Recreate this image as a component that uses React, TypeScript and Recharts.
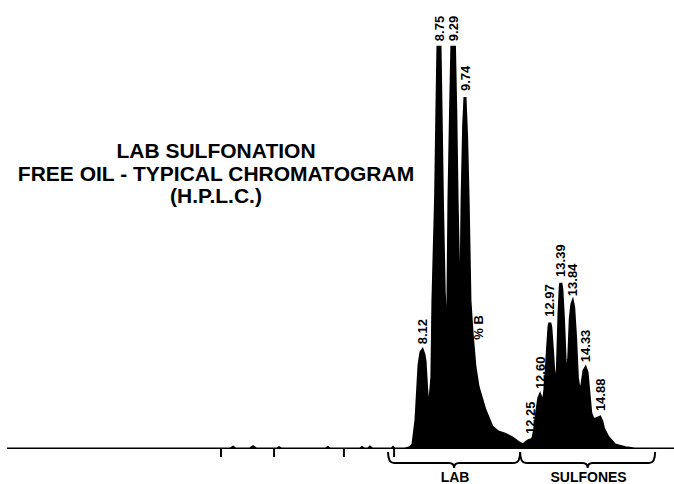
import React from 'react';
import { ComposedChart, Area, XAxis, YAxis, ReferenceLine, ReferenceDot } from 'recharts';

// Title lines
const titleLines = ['LAB SULFONATION', 'FREE OIL - TYPICAL CHROMATOGRAM', '(H.P.L.C.)'];

// Detector trace: [time (min), signal (% of full scale)]
const tracePoints: [number, number][] = [
  [-7.7, 0], [0.8, 0], [0.91, 0.4], [1.0, 0], [1.55, 0], [1.67, 0.5], [1.78, 0],
  [2.58, 0], [2.66, 0.3], [2.75, 0], [4.45, 0], [4.52, 0.3], [4.6, 0],
  [5.75, 0], [5.82, 0.3], [5.9, 0], [6.05, 0], [6.12, 0.4], [6.2, 0],
  [6.95, 0], [7.0, 0.3], [7.06, 0], [7.46, 0], [7.65, 0.3], [7.76, 1.0],
  [7.875, 6.5], [7.99, 18.7], [8.06, 21.5], [8.12, 22.0], [8.18, 21.0], [8.22, 19.5],
  [8.28, 13.5], [8.33, 9.4], [8.41, 11.0], [8.48, 16.0], [8.52, 33.2], [8.62, 55.5],
  [8.67, 75.0], [8.71, 89.5], [8.75, 89.5], [8.79, 89.5], [8.83, 75.0], [8.88, 55.5],
  [8.95, 35.0], [9.04, 23.2], [9.09, 32.0], [9.13, 55.5], [9.19, 75.0], [9.24, 89.5],
  [9.29, 89.5], [9.34, 89.5], [9.39, 75.0], [9.44, 55.5], [9.50, 38.0], [9.57, 25.8],
  [9.63, 55.5], [9.69, 72.0], [9.74, 78.4], [9.80, 70.0], [9.86, 55.5], [9.93, 33.0],
  [10.01, 25.8], [10.12, 18.3], [10.24, 13.8], [10.50, 8.7], [10.77, 4.9], [11.0, 3.8],
  [11.26, 3.3], [11.53, 2.5], [11.76, 1.5], [11.95, 0.9], [12.10, 1.6], [12.18, 1.9],
  [12.25, 2.0], [12.33, 2.4], [12.40, 4.5], [12.48, 8.5], [12.55, 11.3], [12.60, 12.0],
  [12.65, 11.2], [12.72, 10.2], [12.80, 14.0], [12.88, 22.0], [12.94, 27.2], [12.97, 28.1],
  [13.01, 27.0], [13.07, 22.0], [13.14, 15.5], [13.20, 13.8], [13.26, 18.0], [13.32, 30.0],
  [13.37, 36.2], [13.39, 37.0], [13.43, 35.5], [13.49, 29.0], [13.56, 19.0], [13.63, 16.0],
  [13.69, 20.0], [13.75, 29.0], [13.81, 32.2], [13.84, 32.7], [13.88, 31.5], [13.95, 25.0],
  [14.02, 16.0], [14.10, 12.5], [14.20, 14.5], [14.27, 17.4], [14.33, 18.0], [14.39, 17.0],
  [14.46, 12.5], [14.53, 8.0], [14.60, 6.9], [14.70, 6.6], [14.80, 6.9], [14.88, 7.1],
  [14.95, 6.2], [15.02, 4.5], [15.18, 2.7], [15.45, 0.9], [15.85, 0.3], [16.2, 0], [17.7, 0],
];

// Peak retention times, labels and apex heights
const peakTimes = [8.12, 8.75, 9.29, 9.74, 12.25, 12.6, 12.97, 13.39, 13.84, 14.33, 14.88];
const peakLabels = ['8.12', '8.75', '9.29', '9.74', '12.25', '12.60', '12.97', '13.39', '13.84', '14.33', '14.88'];
const peakHeights = [22.0, 89.5, 89.5, 78.4, 2.0, 12.0, 28.1, 37.0, 32.7, 18.0, 7.1];

// Gradient annotation
const annotationLabels = ['% B'];
const annotationTimes = [10.24];
const annotationHeights = [23];

// Event marks below the baseline
const markerTimes = [0.45, 1.44, 2.47, 3.95, 5.13, 5.93, 6.62, 7.04];

// Grouping brackets
const groupNames = ['LAB', 'SULFONES'];
const groupStarts = [6.81, 11.84];
const groupEnds = [11.84, 16.98];

const traceData = tracePoints.map(([t, h]) => ({ t, h }));
const FONT = '"Liberation Sans", Arial, Helvetica, sans-serif';

const VerticalLabel = ({ cx, cy, text }: { cx: number; cy: number; text: string }) => {
  const x = cx + 4.6;
  const y = cy - 6;
  return (
    <text
      x={x}
      y={y}
      transform={`rotate(-90, ${x}, ${y})`}
      textAnchor="start"
      fontFamily={FONT}
      fontWeight="bold"
      fontSize={13}
      fill="#000"
    >
      {text}
    </text>
  );
};

const makeBracket = (name: string) => (props: any) => {
  const { x1, x2, y1 } = props;
  const xa = Math.min(x1, x2);
  const xb = Math.max(x1, x2);
  const mid = (xa + xb) / 2;
  const yTop = y1 + 3;
  const yLine = y1 + 14;
  const yTip = y1 + 19;
  const d = `M ${xa} ${yTop} Q ${xa} ${yLine} ${xa + 6} ${yLine} L ${mid - 5} ${yLine} Q ${mid} ${yLine} ${mid} ${yTip} Q ${mid} ${yLine} ${mid + 5} ${yLine} L ${xb - 6} ${yLine} Q ${xb} ${yLine} ${xb} ${yTop}`;
  return (
    <g>
      <path d={d} fill="none" stroke="#000" strokeWidth={2} />
      <text x={mid + 1} y={y1 + 33} textAnchor="middle" fontFamily={FONT} fontWeight="bold" fontSize={14} fill="#000">
        {name}
      </text>
    </g>
  );
};

const EmptyTick = () => <g />;

export default function App() {
  return (
    <div style={{ position: 'absolute', left: 0, top: 0, width: 674, height: 484, background: '#fff' }}>
      <ComposedChart width={674} height={484} data={traceData} margin={{ top: 0, right: 0, left: 7, bottom: 0 }}>
        <XAxis
          dataKey="t"
          type="number"
          domain={[-7.7, 17.7]}
          ticks={markerTimes}
          axisLine={false}
          tickLine={{ stroke: '#000', strokeWidth: 2 }}
          tickSize={8}
          tick={<EmptyTick />}
          height={35}
          allowDataOverflow
        />
        <YAxis type="number" domain={[0, 100]} hide allowDataOverflow />
        <Area
          type="linear"
          dataKey="h"
          stroke="#000"
          strokeWidth={3}
          fill="#000"
          fillOpacity={1}
          isAnimationActive={false}
          dot={false}
          activeDot={false}
        />
        {groupNames.map((name, i) => (
          <ReferenceLine
            key={name}
            segment={[{ x: groupStarts[i], y: 0 }, { x: groupEnds[i], y: 0 }]}
            shape={makeBracket(name)}
          />
        ))}
        {peakTimes.map((t, i) => (
          <ReferenceDot
            key={peakLabels[i]}
            x={t}
            y={peakHeights[i]}
            r={0}
            shape={(p: any) => <VerticalLabel cx={p.cx} cy={p.cy} text={peakLabels[i]} />}
          />
        ))}
        {annotationTimes.map((t, i) => (
          <ReferenceDot
            key={annotationLabels[i]}
            x={t}
            y={annotationHeights[i]}
            r={0}
            shape={(p: any) => <VerticalLabel cx={p.cx} cy={p.cy} text={annotationLabels[i]} />}
          />
        ))}
      </ComposedChart>
      <svg width={674} height={484} style={{ position: 'absolute', left: 0, top: 0, pointerEvents: 'none' }}>
        {titleLines.map((line, i) => (
          <text
            key={line}
            x={216}
            y={158 + i * 22.5}
            textAnchor="middle"
            fontFamily={FONT}
            fontWeight="bold"
            fontSize={21}
            fill="#000"
          >
            {line}
          </text>
        ))}
      </svg>
    </div>
  );
}
